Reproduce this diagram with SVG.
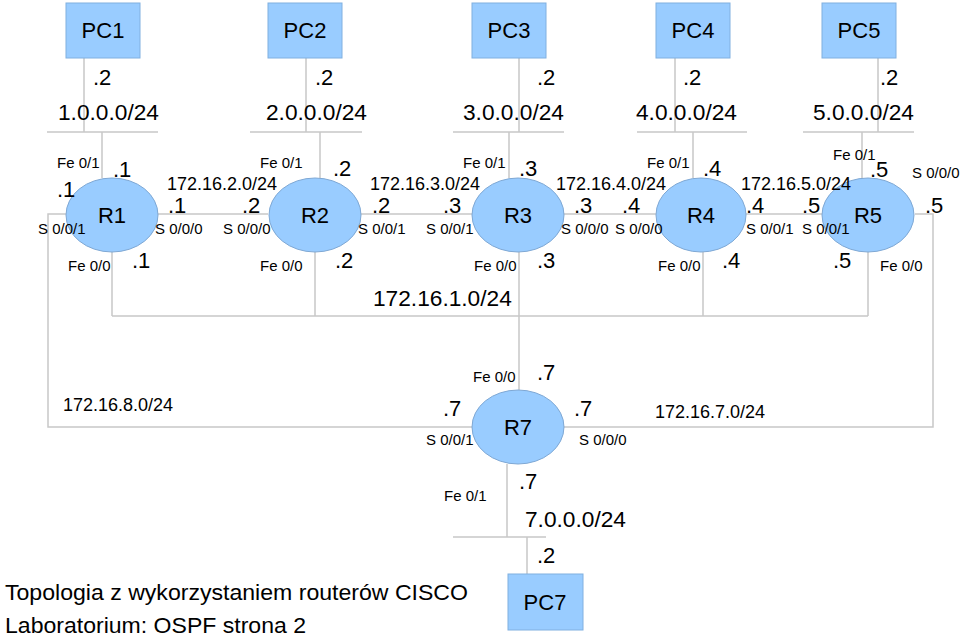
<svg xmlns="http://www.w3.org/2000/svg" width="960" height="638" viewBox="0 0 960 638">
<style>
.bg{fill:#ffffff}
.pc{fill:#99ccff;stroke:#80b0e0;stroke-width:1}
.rt{fill:#99ccff;stroke:#7fa8d4;stroke-width:1}
.ln{fill:none;stroke:#c8c8c8;stroke-width:1.5}
text{font-family:"Liberation Sans",Arial,sans-serif;fill:#000}
.b{font-size:22px}
.n{font-size:22.7px}
.m{font-size:18px}
.s{font-size:15px}
.c{text-anchor:middle}
</style>
<rect class="bg" x="0" y="0" width="960" height="638"/>
<g id="connectors">
<path class="ln" d="M84,58 V132 M47,132 H158 M102,132 V178"/>
<path class="ln" d="M306,58 V132 M250,132 H362 M320,132 V178"/>
<path class="ln" d="M519,58 V132 M453,132 H564 M509,132 V178"/>
<path class="ln" d="M675,58 V132 M637,132 H747 M693,132 V178"/>
<path class="ln" d="M878,58 V132 M803,132 H914 M862,132 V178"/>
<path class="ln" d="M158,214 H268 M361,214 H472 M564,214 H656 M746,214 H822"/>
<path class="ln" d="M112,252 V316 M315,252 V316 M519,252 V390 M703,252 V316 M868,252 V316 M112,316 H868"/>
<path class="ln" d="M66,214 H48 V427 H472"/>
<path class="ln" d="M915,214 H933 V427 H564"/>
<path class="ln" d="M507,464 V537 M453,537 H546 M527,537 V574"/>
</g>
<g id="PC1"><rect class="pc" x="66" y="3" width="74" height="55"/><text class="b c" x="103" y="38">PC1</text></g>
<g id="PC2"><rect class="pc" x="268" y="3" width="74" height="55"/><text class="b c" x="305" y="38">PC2</text></g>
<g id="PC3"><rect class="pc" x="472" y="3" width="74" height="55"/><text class="b c" x="509" y="38">PC3</text></g>
<g id="PC4"><rect class="pc" x="656" y="3" width="74" height="55"/><text class="b c" x="693" y="38">PC4</text></g>
<g id="PC5"><rect class="pc" x="822" y="3" width="74" height="55"/><text class="b c" x="859" y="38">PC5</text></g>
<g id="PC7"><rect class="pc" x="508" y="574" width="75" height="56"/><text class="b c" x="545" y="610">PC7</text></g>
<g id="R1"><ellipse class="rt" cx="112" cy="215" rx="46" ry="37"/><text class="b c" x="112" y="223">R1</text></g>
<g id="R2"><ellipse class="rt" cx="315" cy="215" rx="46" ry="37"/><text class="b c" x="315" y="223">R2</text></g>
<g id="R3"><ellipse class="rt" cx="518" cy="215" rx="46" ry="37"/><text class="b c" x="518" y="223">R3</text></g>
<g id="R4"><ellipse class="rt" cx="701" cy="215" rx="45" ry="37"/><text class="b c" x="701" y="223">R4</text></g>
<g id="R5"><ellipse class="rt" cx="868" cy="215" rx="46" ry="37"/><text class="b c" x="868" y="223">R5</text></g>
<g id="R7"><ellipse class="rt" cx="518" cy="427" rx="46" ry="37"/><text class="b c" x="518" y="435">R7</text></g>
<g id="labels">
<text class="b" x="93" y="85">.2</text>
<text class="n" x="58" y="120">1.0.0.0/24</text>
<text class="b" x="315" y="85">.2</text>
<text class="n" x="266" y="120">2.0.0.0/24</text>
<text class="b" x="537" y="85">.2</text>
<text class="n" x="463" y="120">3.0.0.0/24</text>
<text class="b" x="683" y="85">.2</text>
<text class="n" x="636" y="120">4.0.0.0/24</text>
<text class="b" x="880" y="85">.2</text>
<text class="n" x="813" y="120">5.0.0.0/24</text>
<text class="s" x="57" y="168">Fe 0/1</text>
<text class="b" x="113" y="177">.1</text>
<text class="b" x="57" y="197">.1</text>
<text class="s" x="38" y="234">S 0/0/1</text>
<text class="b" x="168" y="213">.1</text>
<text class="s" x="155" y="234">S 0/0/0</text>
<text class="s" x="68" y="271">Fe 0/0</text>
<text class="b" x="132" y="268">.1</text>
<text class="m" x="167" y="190">172.16.2.0/24</text>
<text class="b" x="242" y="213">.2</text>
<text class="s" x="223" y="234">S 0/0/0</text>
<text class="s" x="260" y="168">Fe 0/1</text>
<text class="b" x="333" y="176">.2</text>
<text class="s" x="260" y="271">Fe 0/0</text>
<text class="b" x="335" y="268">.2</text>
<text class="b" x="372" y="213">.2</text>
<text class="s" x="358" y="234">S 0/0/1</text>
<text class="m" x="370" y="190">172.16.3.0/24</text>
<text class="b" x="443" y="213">.3</text>
<text class="s" x="426" y="234">S 0/0/1</text>
<text class="s" x="463" y="168">Fe 0/1</text>
<text class="b" x="519" y="176">.3</text>
<text class="b" x="574" y="213">.3</text>
<text class="s" x="561" y="234">S 0/0/0</text>
<text class="s" x="474" y="271">Fe 0/0</text>
<text class="b" x="537" y="268">.3</text>
<text class="m" x="556" y="190">172.16.4.0/24</text>
<text class="n" x="373" y="306">172.16.1.0/24</text>
<text class="b" x="622" y="213">.4</text>
<text class="s" x="615" y="234">S 0/0/0</text>
<text class="s" x="647" y="168">Fe 0/1</text>
<text class="b" x="703" y="176">.4</text>
<text class="b" x="746" y="213">.4</text>
<text class="s" x="746" y="234">S 0/0/1</text>
<text class="s" x="658" y="271">Fe 0/0</text>
<text class="b" x="722" y="268">.4</text>
<text class="m" x="741" y="190">172.16.5.0/24</text>
<text class="b" x="802" y="213">.5</text>
<text class="s" x="802" y="234">S 0/0/1</text>
<text class="s" x="833" y="160">Fe 0/1</text>
<text class="b" x="870" y="177">.5</text>
<text class="s" x="912" y="178">S 0/0/0</text>
<text class="b" x="925" y="213">.5</text>
<text class="b" x="833" y="268">.5</text>
<text class="s" x="880" y="271">Fe 0/0</text>
<text class="s" x="473" y="382">Fe 0/0</text>
<text class="b" x="537" y="380">.7</text>
<text class="b" x="443" y="416">.7</text>
<text class="s" x="426" y="445">S 0/0/1</text>
<text class="b" x="574" y="416">.7</text>
<text class="s" x="579" y="445">S 0/0/0</text>
<text class="m" x="655" y="418">172.16.7.0/24</text>
<text class="m" x="63" y="411">172.16.8.0/24</text>
<text class="s" x="444" y="501">Fe 0/1</text>
<text class="b" x="519" y="489">.7</text>
<text class="n" x="525" y="527">7.0.0.0/24</text>
<text class="b" x="537" y="563">.2</text>
<text class="n" x="5" y="600" textLength="463" lengthAdjust="spacingAndGlyphs">Topologia z wykorzystaniem routerów CISCO</text>
<text class="n" x="5" y="633" textLength="301" lengthAdjust="spacingAndGlyphs">Laboratorium: OSPF strona 2</text>
</g>
</svg>
